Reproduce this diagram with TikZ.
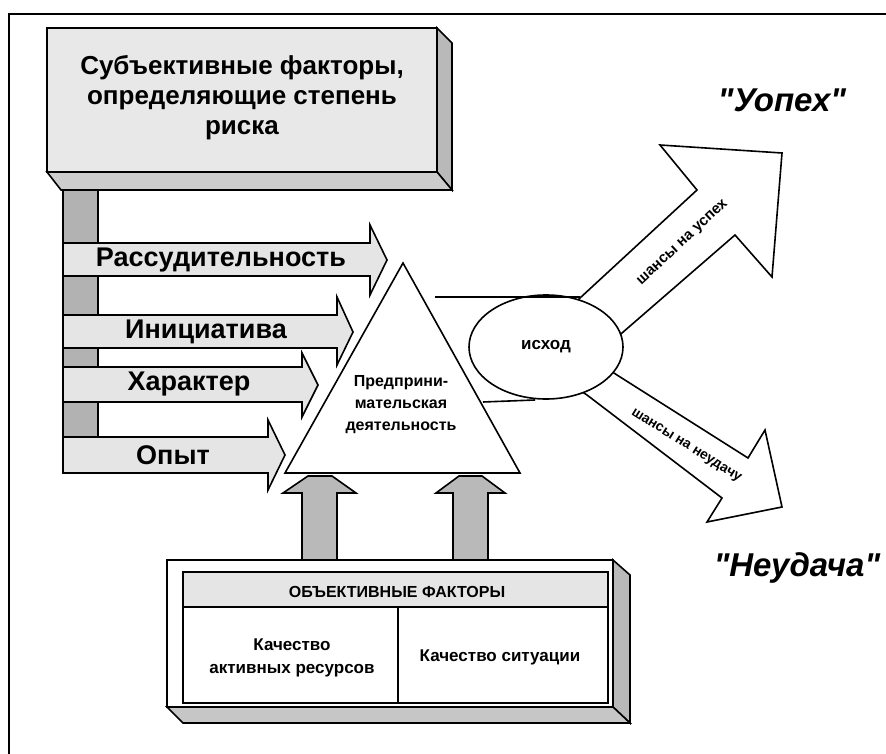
\documentclass[tikz,border=0pt]{standalone}
\usepackage{fontspec}
\setmainfont{Liberation Sans}
\usetikzlibrary{shapes.geometric}
\tikzset{
  outline/.style={draw=black, line width=1.6pt, line join=miter},
  facelight/.style={outline, fill=gray!18},
  facedark/.style={outline, fill=gray!55},
  blockarrow/.style={outline, fill=gray!20},
  uparrow/.style={outline, fill=gray!55},
  lbl/.style={inner sep=0pt, font=\bfseries}
}
\begin{document}
\begin{tikzpicture}[x=1pt, y=-1pt]
\useasboundingbox (0,0) rectangle (886,754);
\draw[line width=1.2pt] (9,754) -- (9,14) -- (886,14);
%
% subjective factors box
\draw[facedark] (437,28) -- (452,43) -- (452,190) -- (437,172) -- cycle;
\draw[outline, fill=gray!40] (47,172) -- (437,172) -- (452,190) -- (61,190) -- cycle;
\draw[facelight] (47,28) rectangle (437,172);
\node[lbl, align=center, font=\bfseries\fontsize{26}{30}\selectfont] (subj) at (242,98)
  {Субъективные факторы,\\определяющие степень\\риска};
%
\draw[outline, fill=gray!60] (63,190) rectangle (98,473);
%
% factor arrows
\draw[blockarrow] (63,243) -- (370,243) -- (370,225) -- (387,260) -- (370,295) -- (370,276) -- (63,276) -- cycle;
\draw[blockarrow] (63,315) -- (337,315) -- (337,297) -- (353,332) -- (337,365) -- (337,348) -- (63,348) -- cycle;
\draw[blockarrow] (63,367) -- (302,367) -- (302,353) -- (318,385) -- (302,417) -- (302,402) -- (63,402) -- cycle;
\draw[blockarrow] (63,437) -- (268,437) -- (268,420) -- (285,455) -- (268,490) -- (268,473) -- (63,473) -- cycle;
\node[lbl, font=\bfseries\fontsize{27}{28}\selectfont] (rass) at (221,260) {Рассудительность};
\node[lbl, font=\bfseries\fontsize{27}{28}\selectfont] (init) at (206,332) {Инициатива};
\node[lbl, font=\bfseries\fontsize{27}{28}\selectfont] (harak) at (189,384) {Характер};
\node[lbl, font=\bfseries\fontsize{27}{28}\selectfont] (opyt) at (173,455) {Опыт};
%
% activity triangle
\coordinate (apex) at (403,263);
\coordinate (baseL) at (285,473);
\coordinate (baseR) at (520,473);
\draw[outline, fill=white] (apex) -- (baseL) -- (baseR) -- cycle;
\node[lbl, align=center, font=\bfseries\fontsize{16}{22}\selectfont] (activ) at (401,405)
  {Предприни-\\мательская\\деятельность};
%
% outcome arrows
\draw[outline, fill=white] (565,312) -- (580,298) -- (697,190) -- (660,145) -- (782,153) -- (772,277) -- (735,235) -- (622,333) -- (607,346) -- cycle;
\draw[outline, fill=white] (600,364) -- (617,375) -- (748,458) -- (765,430) -- (782,507) -- (707,522) -- (722,498) -- (587,395) -- (570,384) -- cycle;
\node[ellipse, outline, fill=white, minimum width=154, minimum height=104, inner sep=0pt,
  font=\bfseries\fontsize{17}{18}\selectfont] (ishod) at (546,347) {исход};
\coordinate (topL) at (435,297);
\coordinate (topR) at (580,297);
\coordinate (botL) at (483,402);
\coordinate (botR) at (535,400);
\draw[line width=1.6pt] (topL) -- (topR);
\draw[line width=1.6pt] (botL) -- (botR);
\node[lbl, rotate=43, font=\bfseries\fontsize{15}{16}\selectfont] (chup) at (683,243) {шансы на успех};
\node[lbl, rotate=-32, font=\bfseries\fontsize{14}{16}\selectfont] (chdown) at (686,446) {шансы на неудачу};
\node[lbl, font=\bfseries\itshape\fontsize{33}{34}\selectfont] (uspeh) at (782,100) {\textquotedbl Уопех\textquotedbl};
\node[lbl, font=\bfseries\itshape\fontsize{33}{34}\selectfont] (neud) at (797,568) {\textquotedbl Неудача\textquotedbl};
%
% objective factors
\draw[uparrow] (302,560) -- (302,493) -- (283,493) -- (308,476) -- (332,476) -- (356,493) -- (337,493) -- (337,560) -- cycle;
\draw[uparrow] (453,560) -- (453,493) -- (436,493) -- (459,476) -- (482,476) -- (505,493) -- (488,493) -- (488,560) -- cycle;
\draw[facedark] (613,560) -- (630,575) -- (630,723) -- (613,707) -- cycle;
\draw[outline, fill=gray!45] (167,707) -- (613,707) -- (630,723) -- (183,723) -- cycle;
\draw[outline, fill=white] (167,560) rectangle (613,707);
\draw[outline, fill=gray!20] (183,572) rectangle (608,607);
\draw[outline] (183,607) rectangle (608,703);
\draw[outline] (398,607) -- (398,703);
\node[lbl, font=\bfseries\fontsize{16}{18}\selectfont] (obj) at (397,592) {ОБЪЕКТИВНЫЕ ФАКТОРЫ};
\node[lbl, align=center, font=\bfseries\fontsize{17}{23}\selectfont] (kres) at (292,658)
  {Качество\\активных ресурсов};
\node[lbl, font=\bfseries\fontsize{17}{18}\selectfont] (ksit) at (500,657) {Качество ситуации};
\end{tikzpicture}
\end{document}
